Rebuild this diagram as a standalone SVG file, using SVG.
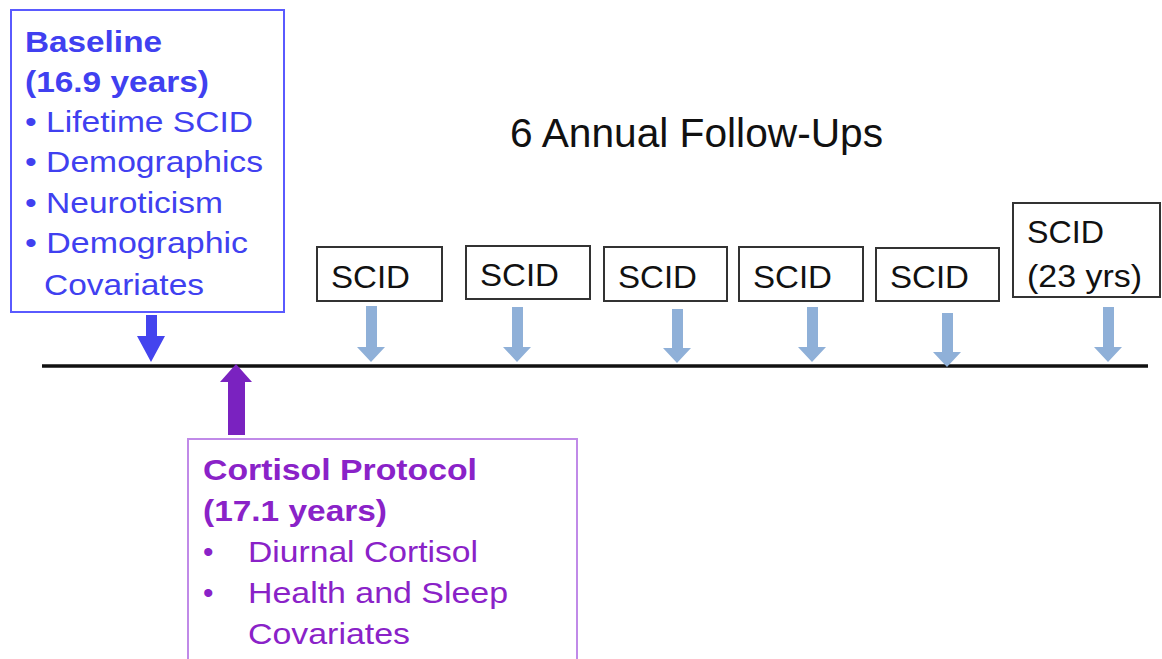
<svg xmlns="http://www.w3.org/2000/svg" width="1162" height="659" viewBox="0 0 1162 659">
<style>
text{font-family:"Liberation Sans",Arial,sans-serif}
.b{fill:#4040f0;font-size:30px}
.p{fill:#8a22c8;font-size:30px}
.k{fill:#111;font-size:32px}
.bold{font-weight:bold}
.box{fill:#fff;stroke:#333;stroke-width:2}
.la{fill:#8fb0d8}
</style>
<rect width="1162" height="659" fill="#fff"/>
<g id="connectors">
<line x1="42" y1="366" x2="1148" y2="366" stroke="#111" stroke-width="3.5"/>
<path d="M146,315 H157 V336 H165 L151,362 L137,336 H146 Z" fill="#4444ee"/>
<path d="M228,435 H245 V382 H252 L236,364 L220,382 H228 Z" fill="#7a22c0"/>
<path class="la" d="M366,306 H377 V347 H385 L371,362 L357,347 H366 Z"/>
<path class="la" d="M512,307 H523 V347 H531 L517,362 L503,347 H512 Z"/>
<path class="la" d="M672,309 H683 V348 H691 L677,363 L663,348 H672 Z"/>
<path class="la" d="M807,307 H818 V347 H826 L812,362 L798,347 H807 Z"/>
<path class="la" d="M942,313 H953 V352 H961 L947,367 L933,352 H942 Z"/>
<path class="la" d="M1103,307 H1114 V347 H1122 L1108,362 L1094,347 H1103 Z"/>
</g>
<g id="baseline">
<rect x="11" y="10" width="273" height="302" fill="#fff" stroke="#5a5aff" stroke-width="2"/>
<text class="b bold" x="25" y="52" textLength="137" lengthAdjust="spacingAndGlyphs">Baseline</text>
<text class="b bold" x="25" y="92" textLength="184" lengthAdjust="spacingAndGlyphs">(16.9 years)</text>
<text class="b" x="25" y="132" textLength="228" lengthAdjust="spacingAndGlyphs">• Lifetime SCID</text>
<text class="b" x="25" y="172" textLength="238" lengthAdjust="spacingAndGlyphs">• Demographics</text>
<text class="b" x="25" y="213" textLength="198" lengthAdjust="spacingAndGlyphs">• Neuroticism</text>
<text class="b" x="25" y="253" textLength="223" lengthAdjust="spacingAndGlyphs">• Demographic</text>
<text class="b" x="44" y="295" textLength="160" lengthAdjust="spacingAndGlyphs">Covariates</text>
</g>
<g id="cortisol">
<rect x="188" y="439" width="389" height="225" fill="#fff" stroke="#c08ae8" stroke-width="2"/>
<text class="p bold" x="203" y="480" textLength="274" lengthAdjust="spacingAndGlyphs">Cortisol Protocol</text>
<text class="p bold" x="203" y="521" textLength="184" lengthAdjust="spacingAndGlyphs">(17.1 years)</text>
<text class="p" x="203" y="562">•</text>
<text class="p" x="248" y="562" textLength="230" lengthAdjust="spacingAndGlyphs">Diurnal Cortisol</text>
<text class="p" x="203" y="603">•</text>
<text class="p" x="248" y="603" textLength="260" lengthAdjust="spacingAndGlyphs">Health and Sleep</text>
<text class="p" x="248" y="644" textLength="162" lengthAdjust="spacingAndGlyphs">Covariates</text>
</g>
<g id="title">
<text x="510" y="147" style="font-size:41px;fill:#111" textLength="373" lengthAdjust="spacingAndGlyphs">6 Annual Follow-Ups</text>
</g>
<g id="scid1"><rect class="box" x="317" y="247" width="125" height="54"/><text class="k" x="331" y="288" textLength="79" lengthAdjust="spacingAndGlyphs">SCID</text></g>
<g id="scid2"><rect class="box" x="466" y="246" width="124" height="53"/><text class="k" x="480" y="286" textLength="79" lengthAdjust="spacingAndGlyphs">SCID</text></g>
<g id="scid3"><rect class="box" x="604" y="247" width="123" height="54"/><text class="k" x="618" y="288" textLength="79" lengthAdjust="spacingAndGlyphs">SCID</text></g>
<g id="scid4"><rect class="box" x="739" y="247" width="124" height="54"/><text class="k" x="753" y="288" textLength="79" lengthAdjust="spacingAndGlyphs">SCID</text></g>
<g id="scid5"><rect class="box" x="876" y="248" width="123" height="53"/><text class="k" x="890" y="288" textLength="79" lengthAdjust="spacingAndGlyphs">SCID</text></g>
<g id="scid6"><rect class="box" x="1013" y="203" width="147" height="94"/><text class="k" x="1027" y="243" textLength="77" lengthAdjust="spacingAndGlyphs">SCID</text><text class="k" x="1027" y="287" textLength="115" lengthAdjust="spacingAndGlyphs">(23 yrs)</text></g>
</svg>
